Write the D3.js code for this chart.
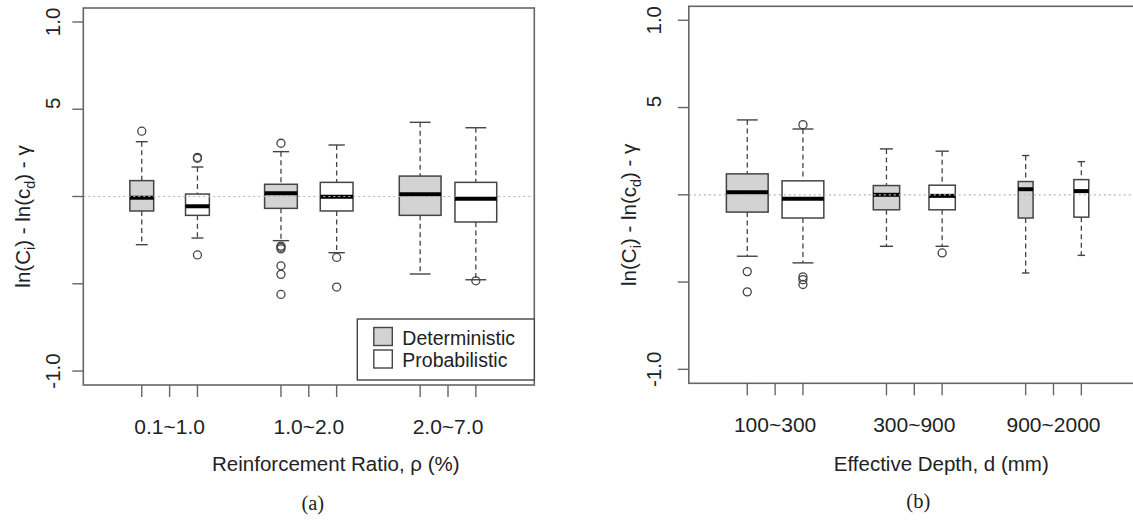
<!DOCTYPE html>
<head>
  <meta charset="UTF-8">
  <title>Boxplots</title>
  <script src="https://d3js.org/d3.v7.min.js"></script>
  <style>
    body { margin: 0; background: #fff; }
    svg text { font-family: "Liberation Sans", Arial, sans-serif; fill: #222; }
  </style>
</head>
<body>
<svg id="chart"></svg>
<script>

// ---- data ----
const methods = ["Deterministic", "Probabilistic"];

const groupsA = ["0.1~1.0", "1.0~2.0", "2.0~7.0"];
const countsA = [105, 198, 322];            // relative sample sizes (varwidth)
// [lower whisker, Q1, median, Q3, upper whisker], det/prob per group
const statsA = [
  [-0.276, -0.083, -0.007, 0.091, 0.314],
  [-0.238, -0.108, -0.056, 0.014, 0.169],
  [-0.253, -0.068, 0.018, 0.070, 0.257],
  [-0.322, -0.083, -0.001, 0.081, 0.295],
  [-0.444, -0.108, 0.013, 0.117, 0.425],
  [-0.477, -0.146, -0.013, 0.081, 0.394]
];
const outliersA = [
  [0.374],
  [0.219, 0.224, -0.335],
  [0.305, -0.284, -0.291, -0.300, -0.397, -0.446, -0.561],
  [-0.349, -0.519],
  [],
  [-0.483]
];

const groupsB = ["100~300", "300~900", "900~2000"];
const countsB = [410, 163, 52];
const statsB = [
  [-0.352, -0.099, 0.015, 0.120, 0.429],
  [-0.390, -0.133, -0.023, 0.080, 0.377],
  [-0.295, -0.086, 0.000, 0.053, 0.263],
  [-0.295, -0.086, -0.006, 0.055, 0.250],
  [-0.448, -0.133, 0.032, 0.076, 0.225],
  [-0.347, -0.128, 0.021, 0.087, 0.190]
];
const outliersB = [
  [-0.440, -0.556],
  [0.402, -0.470, -0.486, -0.514],
  [],
  [-0.333],
  [],
  []
];

const boxPositions = [1, 3, 6, 8, 11, 13];
const xTicks = [1, 2, 3, 6, 7, 8, 11, 12, 13];
const yTicks = [-1, -0.5, 0, 0.5, 1];
const yTickLabels = ["-1.0", "", "", "5", "1.0"];

// ---- layout ----
const W = 1133, H = 520;
const svg = d3.select("#chart").attr("width", W).attr("height", H);

const fills = ["#d3d3d3", "#ffffff"];
const ink = "#444";

function panel(opt) {
  const { left, top, groups, counts, stats, outliers, xTitle, tag } = opt;
  const pw = 451, ph = 377;
  const g = svg.append("g").attr("transform", `translate(${left},${top})`);

  const x = d3.scaleLinear().domain([-1.1, 15.1]).range([0, pw]);
  const y = d3.scaleLinear().domain([-1.08, 1.08]).range([ph, 0]);
  const nMax = d3.max(counts);
  const boxW = n => (x(1.5) - x(0)) * Math.sqrt(n / nMax);

  // boxes
  stats.forEach((s, i) => {
    const cx = x(boxPositions[i]);
    const w = boxW(counts[Math.floor(i / 2)]);
    const b = g.append("g");
    // whiskers
    b.append("line").attr("x1", cx).attr("x2", cx).attr("y1", y(s[4])).attr("y2", y(s[3]))
      .attr("stroke", ink).attr("stroke-width", 1.3).attr("stroke-dasharray", "5,3.5");
    b.append("line").attr("x1", cx).attr("x2", cx).attr("y1", y(s[1])).attr("y2", y(s[0]))
      .attr("stroke", ink).attr("stroke-width", 1.3).attr("stroke-dasharray", "5,3.5");
    // staples
    [s[0], s[4]].forEach(v => {
      b.append("line").attr("x1", cx - w / 4).attr("x2", cx + w / 4).attr("y1", y(v)).attr("y2", y(v))
        .attr("stroke", ink).attr("stroke-width", 1.4);
    });
    b.append("rect").attr("x", cx - w / 2).attr("width", w)
      .attr("y", y(s[3])).attr("height", y(s[1]) - y(s[3]))
      .attr("fill", fills[i % 2]).attr("stroke", ink).attr("stroke-width", 1.5);
    b.append("line").attr("x1", cx - w / 2).attr("x2", cx + w / 2)
      .attr("y1", y(s[2])).attr("y2", y(s[2])).attr("stroke", "#000").attr("stroke-width", 4);
    b.selectAll("circle").data(outliers[i]).enter().append("circle")
      .attr("cx", cx).attr("cy", d => y(d)).attr("r", 4)
      .attr("fill", "none").attr("stroke", ink).attr("stroke-width", 1.3);
  });

  // zero reference line
  g.append("line").attr("x1", 0).attr("x2", pw).attr("y1", y(0)).attr("y2", y(0))
    .attr("stroke", "#b5b5b5").attr("stroke-width", 1.2).attr("stroke-dasharray", "2,3");

  // frame
  g.append("rect").attr("width", pw).attr("height", ph)
    .attr("fill", "none").attr("stroke", "#666").attr("stroke-width", 1.6);

  // y ticks
  yTicks.forEach((t, i) => {
    g.append("line").attr("x1", -11).attr("x2", 0).attr("y1", y(t)).attr("y2", y(t))
      .attr("stroke", "#666").attr("stroke-width", 1.4);
    if (yTickLabels[i]) {
      const yy = yTickLabels[i] === "5" ? y(t) - 6 : y(t);
      g.append("text").attr("transform", `translate(${-opt.yLabOff},${yy}) rotate(-90)`)
        .attr("text-anchor", "middle").attr("font-size", 20.5).text(yTickLabels[i]);
    }
  });

  // x ticks
  xTicks.forEach(t => {
    g.append("line").attr("x1", x(t)).attr("x2", x(t)).attr("y1", ph).attr("y2", ph + 12)
      .attr("stroke", "#666").attr("stroke-width", 1.4);
  });
  groups.forEach((lab, i) => {
    g.append("text").attr("x", x(xTicks[i * 3 + 1])).attr("y", ph + opt.xLabY)
      .attr("text-anchor", "middle").attr("font-size", 21).text(lab);
  });

  // axis titles
  g.append("text").attr("x", pw / 2 + 27).attr("y", ph + opt.xTitleY)
    .attr("text-anchor", "middle").attr("font-size", 20.5).text(xTitle);

  const yt = g.append("text")
    .attr("transform", `translate(${-53},${ph / 2 + 20}) rotate(-90)`)
    .attr("text-anchor", "middle").attr("font-size", 20.5);
  yt.append("tspan").text("ln(C");
  yt.append("tspan").attr("font-size", 14.5).attr("dy", 5).text("i");
  yt.append("tspan").attr("dy", -5).text(") - ln(c");
  yt.append("tspan").attr("font-size", 14.5).attr("dy", 5).text("d");
  yt.append("tspan").attr("dy", -5).text(") - γ");

  svg.append("text").attr("x", left + pw / 2 + 4).attr("y", opt.tagY)
    .attr("text-anchor", "middle").attr("font-size", 20.5)
    .style("font-family", "'Liberation Serif', 'Times New Roman', serif").text(tag);

  return { g, x, y, pw, ph };
}

const pa = panel({ left: 83.3, top: 8, groups: groupsA, counts: countsA, stats: statsA,
  outliers: outliersA, xTitle: "Reinforcement Ratio, ρ (%)", tag: "(a)",
  yLabOff: 23.5, xLabY: 49, xTitleY: 86, tagY: 510 });
const pb = panel({ left: 688.8, top: 6.3, groups: groupsB, counts: countsB, stats: statsB,
  outliers: outliersB, xTitle: "Effective Depth, d (mm)", tag: "(b)",
  yLabOff: 27.5, xLabY: 49, xTitleY: 88, tagY: 508 });

// legend (panel a, bottom right)
const lg = pa.g.append("g").attr("transform", `translate(${pa.pw - 177},311)`);
lg.append("rect").attr("width", 177).attr("height", 61)
  .attr("fill", "#fff").attr("stroke", "#444").attr("stroke-width", 1.4);
methods.forEach((m, i) => {
  lg.append("rect").attr("x", 16.5).attr("y", 8.5 + i * 22.5).attr("width", 18.5).attr("height", 18)
    .attr("fill", fills[i]).attr("stroke", "#444").attr("stroke-width", 1.4);
  lg.append("text").attr("x", 45).attr("y", 25.5 + i * 22.5).attr("font-size", 19.5).text(m);
});

</script>
</body>
